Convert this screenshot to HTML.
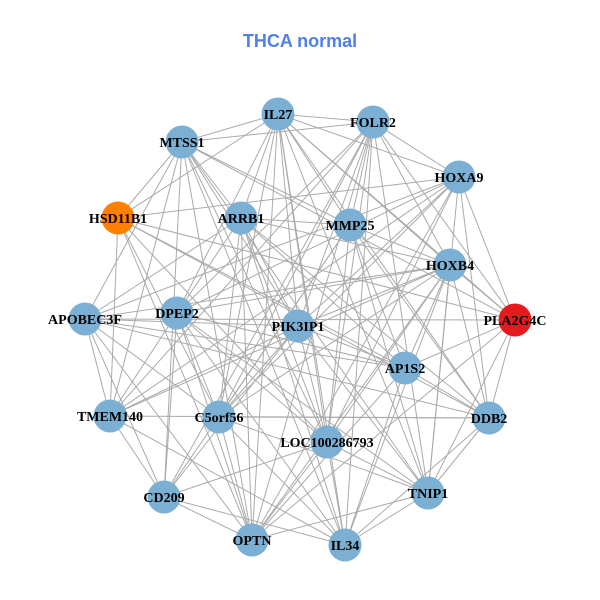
<!DOCTYPE html>
<html><head><meta charset="utf-8"><style>
html,body{margin:0;padding:0;background:#fff;}
svg{display:block;}
text{font-family:"Liberation Serif",serif;font-weight:bold;font-size:14px;fill:#000;}
.t{font-family:"Liberation Sans",sans-serif;font-size:18px;fill:#4F7FE8;}
</style></head><body>
<svg id="g" width="600" height="600" viewBox="0 0 600 600">
<text class="t" x="300" y="47" text-anchor="middle">THCA normal</text>
<g id="e" stroke="#aaaaaa" stroke-width="1"></g>
<g id="n"></g>
</svg>
<script>
var N=[["IL27",278,114],["FOLR2",373,122],["MTSS1",182,142],["HOXA9",459,177],["HSD11B1",118,218],["ARRB1",241,218],["MMP25",350,225],["HOXB4",450,265],["APOBEC3F",85,319],["DPEP2",177,313],["PIK3IP1",298,326],["PLA2G4C",515,320],["AP1S2",405,368],["TMEM140",110,416],["C5orf56",219,417],["DDB2",489,418],["LOC100286793",327,442],["CD209",164,497],["TNIP1",428,493],["OPTN",252,540],["IL34",345,545]];
var ns="http://www.w3.org/2000/svg",E=document.getElementById("e"),G=document.getElementById("n");
var s=7;function r(){s=(s*9301+49297)%233280;return s/233280;}
for(var i=0;i<N.length;i++)for(var j=i+1;j<N.length;j++){if(r()<0.6){var l=document.createElementNS(ns,"line");l.setAttribute("x1",N[i][1]);l.setAttribute("y1",N[i][2]);l.setAttribute("x2",N[j][1]);l.setAttribute("y2",N[j][2]);E.appendChild(l);}}
N.forEach(function(d){var c=document.createElementNS(ns,"circle");c.setAttribute("cx",d[1]);c.setAttribute("cy",d[2]);c.setAttribute("r",16.5);
c.setAttribute("fill",d[0]=="HSD11B1"?"#FF7F00":d[0]=="PLA2G4C"?"#E41A1C":"#7BAFD4");G.appendChild(c);});
N.forEach(function(d){var t=document.createElementNS(ns,"text");t.setAttribute("x",d[1]);t.setAttribute("y",d[2]+5);t.setAttribute("text-anchor","middle");t.textContent=d[0];G.appendChild(t);});
</script>
</body></html>
